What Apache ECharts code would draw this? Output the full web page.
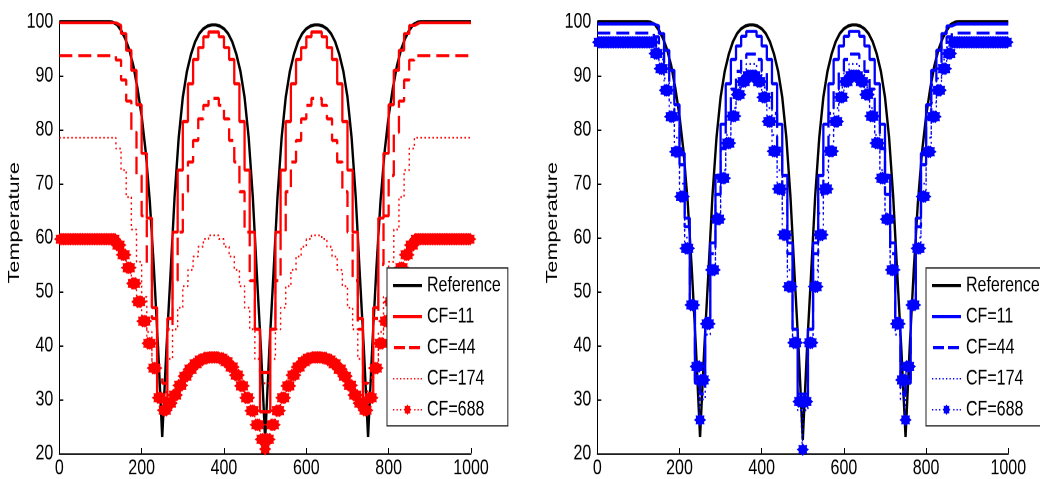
<!DOCTYPE html>
<html><head><meta charset="utf-8">
<script src="https://cdn.jsdelivr.net/npm/echarts@6/dist/echarts.min.js"></script>
<style>
html,body{margin:0;padding:0;background:#fff;overflow:hidden;}
#wrap{width:1040px;height:479px;overflow:hidden;background:#fff;}
#chart{width:1040px;height:355px;transform:scaleY(1.349296);transform-origin:0 0;}
</style></head><body><div id="wrap"><div id="chart"></div></div>
<script>
// ---- data ----
const refX = [0,10,20,30,40,50,60,70,80,90,100,110,120,130,140,150,160,170,180,190,200,210,220,230,240,250,260,270,280,290,300,310,320,330,340,350,360,370,380,390,400,410,420,430,440,450,460,470,480,490,500,510,520,530,540,550,560,570,580,590,600,610,620,630,640,650,660,670,680,690,700,710,720,730,740,750,760,770,780,790,800,810,820,830,840,850,860,870,880,890,900,910,920,930,940,950,960,970,980,990,1000];
const referenceT = [100,100,100,100,100,100,100,100,100,100,100,100,100,99.9,99.5,98.4,96.9,94.8,91.8,87.6,82.5,75.8,66.5,54.0,39.5,23.0,39.0,53.0,67.5,78.5,86.0,90.8,94.0,96.3,97.8,98.7,99.2,99.4,99.4,99.2,98.7,97.8,96.3,94.0,90.8,86.0,78.5,67.5,53.0,39.0,22.5,39.0,53.0,67.5,78.5,86.0,90.8,94.0,96.3,97.8,98.7,99.2,99.4,99.4,99.2,98.7,97.8,96.3,94.0,90.8,86.0,78.5,67.5,53.0,39.0,23.0,39.5,54.0,66.5,75.8,82.5,87.6,91.8,94.8,96.9,98.4,99.5,99.9,100,100,100,100,100,100,100,100,100,100,100,100,100];

// cell edges of the compressed (staircase) solutions
const cellEdges = [0,12.5,25,37.5,50,62.5,75,87.5,100,112.5,125,137.5,150,162.5,175,187.5,200,212.5,225,237.5,250,262.5,275,287.5,300,312.5,325,337.5,350,362.5,375,387.5,400,412.5,425,437.5,450,462.5,475,487.5,500,512.5,525,537.5,550,562.5,575,587.5,600,612.5,625,637.5,650,662.5,675,687.5,700,712.5,725,737.5,750,762.5,775,787.5,800,812.5,825,837.5,850,862.5,875,887.5,900,912.5,925,937.5,950,962.5,975,987.5,1000];

const leftCF11 = [99.8,99.8,99.8,99.8,99.8,99.8,99.8,99.8,99.8,99.8,99.8,
 99.3,97.8,94.7,91.0,84.6,75.6,63.6,47.0,30.0,
 30.0,45.0,61.0,72.5,81.5,88.5,93.0,95.2,97.2,98.1,98.1,97.2,95.2,93.0,88.5,81.5,72.5,61.0,43.0,27.7,
 27.7,43.0,61.0,72.5,81.5,88.5,93.0,95.2,97.2,98.1,98.1,97.2,95.2,93.0,88.5,81.5,72.5,61.0,45.0,30.0,
 30.0,47.0,63.6,75.6,84.6,91.0,94.7,97.8,99.3,
 99.8,99.8,99.8,99.8,99.8,99.8,99.8,99.8,99.8,99.8,99.8];
const leftCF44 = [93.7,93.7,93.7,93.7,93.7,93.7,93.7,93.7,93.7,93.7,93.7,
 92.9,89.2,85.3,79.5,71.5,64.0,55.0,45.0,34.0,
 33.0,43.0,52.0,61.0,68.5,74.0,78.0,82.0,84.5,85.8,85.8,84.5,82.0,78.0,74.0,68.5,61.0,52.0,43.0,35.0,
 35.0,43.0,52.0,61.0,68.5,74.0,78.0,82.0,84.5,85.8,85.8,84.5,82.0,78.0,74.0,68.5,61.0,52.0,43.0,33.0,
 34.0,45.0,55.0,64.0,71.5,79.5,85.3,89.2,92.9,
 93.7,93.7,93.7,93.7,93.7,93.7,93.7,93.7,93.7,93.7,93.7];
const leftCF174 = [78.5,78.5,78.5,78.5,78.5,78.5,78.5,78.5,78.5,78.5,78.5,
 76.5,72.5,67.5,61.5,55.5,49.0,42.5,36.5,31.0,
 31.5,37.5,43.0,47.0,51.0,54.0,56.5,58.3,59.7,60.4,60.4,59.7,58.3,56.5,54.0,51.0,47.0,43.0,37.5,33.0,
 33.0,37.5,43.0,47.0,51.0,54.0,56.5,58.3,59.7,60.4,60.4,59.7,58.3,56.5,54.0,51.0,47.0,43.0,37.5,31.5,
 31.0,36.5,42.5,49.0,55.5,61.5,67.5,72.5,76.5,
 78.5,78.5,78.5,78.5,78.5,78.5,78.5,78.5,78.5,78.5,78.5];
const leftCF688 = [59.7,59.7,59.7,59.7,59.7,59.7,59.7,59.7,59.7,59.7,59.7,
 58.6,56.8,54.4,51.5,48.1,44.5,40.4,35.8,30.3,
 28.0,29.3,30.8,32.6,34.3,35.6,36.6,37.3,37.7,37.8,37.8,37.6,37.0,36.0,34.5,32.5,30.3,27.9,25.3,22.6,
 22.6,25.3,27.9,30.3,32.5,34.5,36.0,37.0,37.6,37.8,37.8,37.7,37.3,36.6,35.6,34.3,32.6,30.8,29.3,28.0,
 30.3,35.8,40.4,44.5,48.1,51.5,54.4,56.8,58.6,
 59.7,59.7,59.7,59.7,59.7,59.7,59.7,59.7,59.7,59.7,59.7];
const leftCF688Pins = [[500,20.8]];

const rightCF11 = [99.6,99.6,99.6,99.6,99.6,99.6,99.6,99.6,99.6,99.6,99.6,
 99.2,97.8,94.7,91.0,84.6,75.6,63.6,48.0,33.0,
 33.0,45.0,59.0,71.5,81.0,88.5,93.0,95.5,97.3,98.2,98.2,97.3,95.5,93.0,88.5,81.0,71.5,59.0,43.0,31.0,
 31.0,43.0,59.0,71.5,81.0,88.5,93.0,95.5,97.3,98.2,98.2,97.3,95.5,93.0,88.5,81.0,71.5,59.0,45.0,33.0,
 33.0,48.0,63.6,75.6,84.6,91.0,94.7,97.8,99.2,
 99.6,99.6,99.6,99.6,99.6,99.6,99.6,99.6,99.6,99.6,99.6];
const rightCF44 = [97.9,97.9,97.9,97.9,97.9,97.9,97.9,97.9,97.9,97.9,97.9,
 97.2,95.5,92.3,88.3,82.0,73.5,62.0,48.0,33.0,
 31.0,44.0,57.0,68.0,76.5,83.0,87.5,90.8,93.0,94.0,94.0,93.0,90.8,87.5,83.0,76.5,68.0,57.0,43.0,29.0,
 29.0,43.0,57.0,68.0,76.5,83.0,87.5,90.8,93.0,94.0,94.0,93.0,90.8,87.5,83.0,76.5,68.0,57.0,44.0,31.0,
 33.0,48.0,62.0,73.5,82.0,88.3,92.3,95.5,97.2,
 97.9,97.9,97.9,97.9,97.9,97.9,97.9,97.9,97.9,97.9,97.9];
const rightCF174 = [96.8,96.8,96.8,96.8,96.8,96.8,96.8,96.8,96.8,96.8,96.8,
 95.3,93.0,89.5,85.0,78.5,70.0,60.0,47.5,34.5,
 30.0,42.0,54.0,64.5,72.5,79.0,84.0,87.8,90.5,92.2,92.2,90.5,87.8,84.0,79.0,72.5,64.5,54.0,41.0,28.0,
 28.0,41.0,54.0,64.5,72.5,79.0,84.0,87.8,90.5,92.2,92.2,90.5,87.8,84.0,79.0,72.5,64.5,54.0,42.0,30.0,
 34.5,47.5,60.0,70.0,78.5,85.0,89.5,93.0,95.3,
 96.8,96.8,96.8,96.8,96.8,96.8,96.8,96.8,96.8,96.8,96.8];
const rightCF688 = [96.2,96.2,96.2,96.2,96.2,96.2,96.2,96.2,96.2,96.2,96.2,
 94.1,91.3,87.3,82.4,75.9,67.6,58.0,47.5,36.1,
 33.6,44.0,54.0,63.4,71.0,77.5,82.5,86.5,88.9,90.0,90.0,88.9,86.0,81.5,76.0,69.0,60.5,50.9,40.5,29.6,
 29.6,40.5,50.9,60.5,69.0,76.0,81.5,86.0,88.9,90.0,90.0,88.9,86.5,82.5,77.5,71.0,63.4,54.0,44.0,33.6,
 36.1,47.5,58.0,67.6,75.9,82.4,87.3,91.3,94.1,
 96.2,96.2,96.2,96.2,96.2,96.2,96.2,96.2,96.2,96.2,96.2];
const rightCF688Pins = [[250,26.2],[500,20.7],[750,26.2]];

const legendNames = ['Reference','CF=11','CF=44','CF=174','CF=688'];
const yAxisTitle = 'Temperature';

// ---- build ----
const FONT = "'Liberation Sans', Arial, Helvetica, sans-serif";
const STAR = 'path://M10 0L12.68 3.53L17.07 2.93L16.47 7.32L20 10L16.47 12.68L17.07 17.07L12.68 16.47L10 20L7.32 16.47L2.93 17.07L3.53 12.68L0 10L3.53 7.32L2.93 2.93L7.32 3.53Z';

// legend icons (29 x 14 box)
const CORNERS = 'M0 0h0.01v0.01h-0.01zM28.99 13.99h0.01v0.01h-0.01z';
function dots(xs){ return xs.map(x=>'M'+x+' 6.4h1.3v1.2h-1.3z').join(''); }
const ICONS = {
  'Reference': 'path://'+CORNERS+'M0 5.85h29v2.3h-29z',
  'CF=11': 'path://'+CORNERS+'M0 5.85h29v2.3h-29z',
  'CF=44': 'path://'+CORNERS+'M1 5.85h11v2.3h-11zM16 5.85h11v2.3h-11z',
  'CF=174': 'path://'+CORNERS+dots([0,3.5,7,10.5,14,17.5,21,24.5,27.7]),
  'CF=688': 'path://'+CORNERS+dots([0,3.5,7])+dots([21.2,24.5,27.7])+
    'M14.5 3L15.57 4.41L17.33 4.17L17.09 5.93L18.5 7L17.09 8.07L17.33 9.83L15.57 9.59L14.5 11L13.43 9.59L11.67 9.83L11.91 8.07L10.5 7L11.91 5.93L11.67 4.17L13.43 4.41Z'
};

function refPoints(){ return refX.map((x,i)=>[x, referenceT[i]]); }
function stepPoints(vals){
  const pts = vals.map((v,i)=>[cellEdges[i], v]);
  pts.push([cellEdges[vals.length], vals[vals.length-1]]);
  return pts;
}
function blobPoints(vals, pins){
  const pts = [];
  vals.forEach((v,i)=>{
    const a = cellEdges[i], w = cellEdges[i+1]-cellEdges[i];
    [0.16,0.5,0.84].forEach(f=>pts.push([a+w*f, v]));
  });
  pins.forEach(p=>pts.push([p[0],p[1]]));
  pts.sort((p,q)=>p[0]-q[0]);
  return pts;
}
function ser(name, g, data, color, type, width, extra){
  return Object.assign({
    type:'line', name:name, xAxisIndex:g, yAxisIndex:g, data:data,
    symbol:'none', silent:true, animation:false,
    lineStyle:{color:color, width:width, type:type},
    itemStyle:{color:color}
  }, extra||{});
}
function plotSeries(g, tag, color, s11, s44, s174, s688, pins){
  return [
    ser('Reference|'+tag, g, refPoints(), '#000000', 'solid', 2.4),
    ser('CF=11|'+tag, g, stepPoints(s11), color, 'solid', 2.3, {step:'end'}),
    ser('CF=44|'+tag, g, stepPoints(s44), color, [13,6], 2.3, {step:'end'}),
    ser('CF=174|'+tag, g, stepPoints(s174), color, [1.5,2.5], 1.4, {step:'end'}),
    ser('CF=688|'+tag, g, blobPoints(s688, pins), color, [1.5,2.5], 1.2, {
      step:'middle', symbol:STAR, symbolSize:[10.5,8.2], showSymbol:true, showAllSymbol:true,
      itemStyle:{color:color, borderColor:color, borderWidth:1}
    })
  ];
}

const axisText = {fontFamily:FONT, fontSize:16, color:'#000'};
function xAx(g){
  return {type:'value', gridIndex:g, min:0, max:1000, interval:200,
    axisLine:{show:true, onZero:false, lineStyle:{color:'#000', width:1}},
    axisTick:{show:true, inside:true, length:4, lineStyle:{color:'#000', width:1}},
    axisLabel:Object.assign({margin:3, lineHeight:16, formatter:function(v){return String(v);}}, axisText),
    splitLine:{show:false}};
}
function yAx(g){
  return {type:'value', gridIndex:g, min:20, max:100, interval:10,
    name:yAxisTitle, nameLocation:'middle', nameGap:28,
    nameTextStyle:Object.assign({padding:[0,0,0,22]}, axisText),
    axisLine:{show:true, onZero:false, lineStyle:{color:'#000', width:1}},
    axisTick:{show:true, inside:true, length:4, lineStyle:{color:'#000', width:1}},
    axisLabel:Object.assign({margin:6, formatter:function(v){return String(v);}}, axisText),
    splitLine:{show:false}};
}
function leg(left, tag){
  return {orient:'vertical', left:left, top:198.6,
    data:legendNames.map(n=>({name:n+'|'+tag, icon:ICONS[n]})),
    formatter:function(n){return n.split('|')[0];},
    itemWidth:29, itemHeight:14, itemGap:7,
    itemStyle:{borderWidth:0},
    padding:[5,7,4,6], borderColor:'#222', borderWidth:1, backgroundColor:'#fff',
    selectedMode:false,
    textStyle:{fontFamily:FONT, fontSize:16, color:'#000', lineHeight:16}};
}

const chart = echarts.init(document.getElementById('chart'), null, {renderer:'canvas', devicePixelRatio:2});
chart.setOption({
  animation:false,
  backgroundColor:'#fff',
  grid:[
    {left:59.3, top:16.08, width:411.7, height:319.9, outerBoundsMode:'none'},
    {left:597.3, top:16.08, width:411, height:319.9, outerBoundsMode:'none'}
  ],
  xAxis:[xAx(0), xAx(1)],
  yAxis:[yAx(0), yAx(1)],
  legend:[leg(387,'L'), leg(926,'R')],
  series:[].concat(
    plotSeries(0,'L','#ff0000',leftCF11,leftCF44,leftCF174,leftCF688,leftCF688Pins),
    plotSeries(1,'R','#0000ff',rightCF11,rightCF44,rightCF174,rightCF688,rightCF688Pins)
  )
});
</script></body></html>
